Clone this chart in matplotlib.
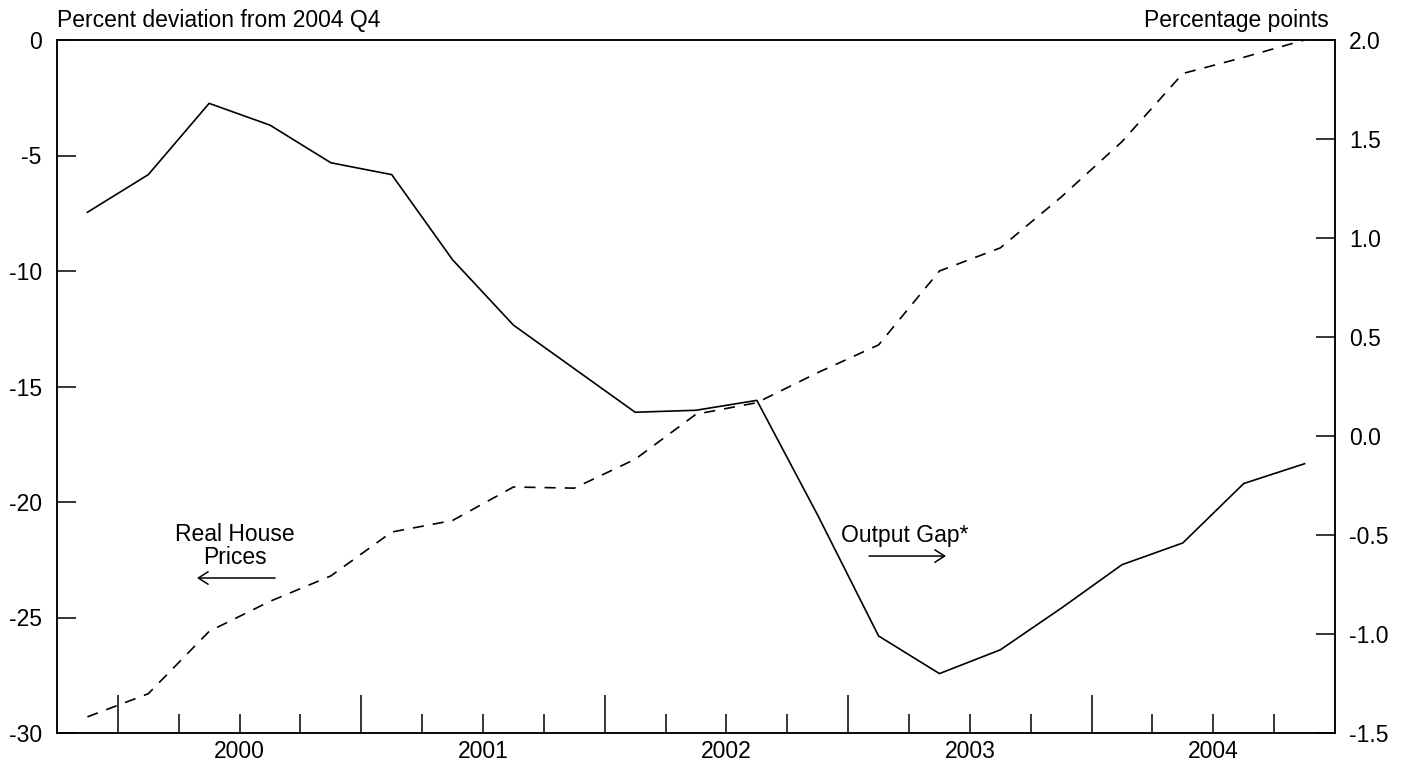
import matplotlib
matplotlib.use("Agg")
import matplotlib.pyplot as plt
import numpy as np

plt.rcParams['font.family'] = ['Liberation Sans', 'DejaVu Sans']
plt.rcParams['lines.scale_dashes'] = False

# Quarters 1999Q4 .. 2004Q4
quarters = ["1999Q4",
            "2000Q1", "2000Q2", "2000Q3", "2000Q4",
            "2001Q1", "2001Q2", "2001Q3", "2001Q4",
            "2002Q1", "2002Q2", "2002Q3", "2002Q4",
            "2003Q1", "2003Q2", "2003Q3", "2003Q4",
            "2004Q1", "2004Q2", "2004Q3", "2004Q4"]

# Real house prices, percent deviation from 2004 Q4 (left axis)
house_prices = [-29.3, -28.3, -25.6, -24.3, -23.2,
                -21.3, -20.8, -19.35, -19.4,
                -18.15, -16.2, -15.7, -14.4,
                -13.2, -10.0, -9.0, -6.8,
                -4.4, -1.45, -0.75, 0.0]

# Output gap, percentage points (right axis)
output_gap = [1.13, 1.32, 1.68, 1.57, 1.38,
              1.32, 0.89, 0.56, 0.34,
              0.12, 0.13, 0.18, -0.40,
              -1.01, -1.20, -1.08, -0.87,
              -0.65, -0.54, -0.24, -0.14]

years = [2000, 2001, 2002, 2003, 2004]
left_ticks = [0, -5, -10, -15, -20, -25, -30]
right_ticks = [2.0, 1.5, 1.0, 0.5, 0.0, -0.5, -1.0, -1.5]


def q_to_x(q):
    y = int(q[:4]); n = int(q[-1])
    return y + (n - 1) * 0.25 + 0.125


x = np.array([q_to_x(q) for q in quarters])

fig = plt.figure(figsize=(14.03, 7.62), dpi=100)
ax = fig.add_axes([57 / 1403, 1 - 733 / 762, (1335 - 57) / 1403, (733 - 40) / 762])
ax2 = ax.twinx()

ax.plot(x, house_prices, color='black', lw=1.2, linestyle=(0, (8, 6.5)))
ax2.plot(x, output_gap, color='black', lw=1.2)

ax.set_xlim(1999.75, 2005.0)
ax.set_ylim(-30, 0)
ax2.set_ylim(-1.5, 2.0)

fs = 16.5
ax.set_yticks(left_ticks)
ax.set_yticklabels([str(t) for t in left_ticks], fontsize=fs)
ax2.set_yticks(right_ticks)
ax2.set_yticklabels([f"{t:.1f}" for t in right_ticks], fontsize=fs)

major = [float(y) for y in years]
minor = [y + q * 0.25 for y in years for q in (1, 2, 3)]
ax.set_xticks(major)
ax.set_xticklabels([""] * len(major))
ax.set_xticks(minor, minor=True)
ax.set_xticklabels([str(int(m)) if abs(m - int(m) - 0.5) < 1e-6 else "" for m in minor],
                   minor=True, fontsize=fs)

ax.tick_params(axis='x', which='major', direction='in', length=27.5, width=1.1, pad=5)
ax.tick_params(axis='x', which='minor', direction='in', length=13.7, width=1.1, pad=5)
ax.tick_params(axis='y', which='major', direction='in', length=13.7, width=1.1, pad=11)
ax2.tick_params(axis='y', which='major', direction='in', length=13.7, width=1.1, pad=10)
ax.tick_params(axis='x', which='both', top=False)

for a in (ax, ax2):
    for s in a.spines.values():
        s.set_linewidth(1.1)

fig.text(57 / 1403, 1 - 20 / 762, "Percent deviation from 2004 Q4", ha='left', va='center', fontsize=fs)
fig.text(1329 / 1403, 1 - 20 / 762, "Percentage points", ha='right', va='center', fontsize=fs)

ax.text(2000.481, -21.9, "Real House\nPrices", ha='center', va='center', fontsize=fs, linespacing=1.04)
ax.annotate("", xy=(2000.325, -23.29), xytext=(2000.646, -23.29),
            arrowprops=dict(arrowstyle='->, head_length=0.7, head_width=0.45', color='black', lw=1.1,
                            shrinkA=0, shrinkB=0))
ax.text(2002.97, -21.43, "Output Gap*", ha='left', va='center', fontsize=fs)
ax.annotate("", xy=(2003.402, -22.34), xytext=(2003.086, -22.34),
            arrowprops=dict(arrowstyle='->, head_length=0.7, head_width=0.45', color='black', lw=1.1,
                            shrinkA=0, shrinkB=0))

fig.savefig("out.png", dpi=100)
